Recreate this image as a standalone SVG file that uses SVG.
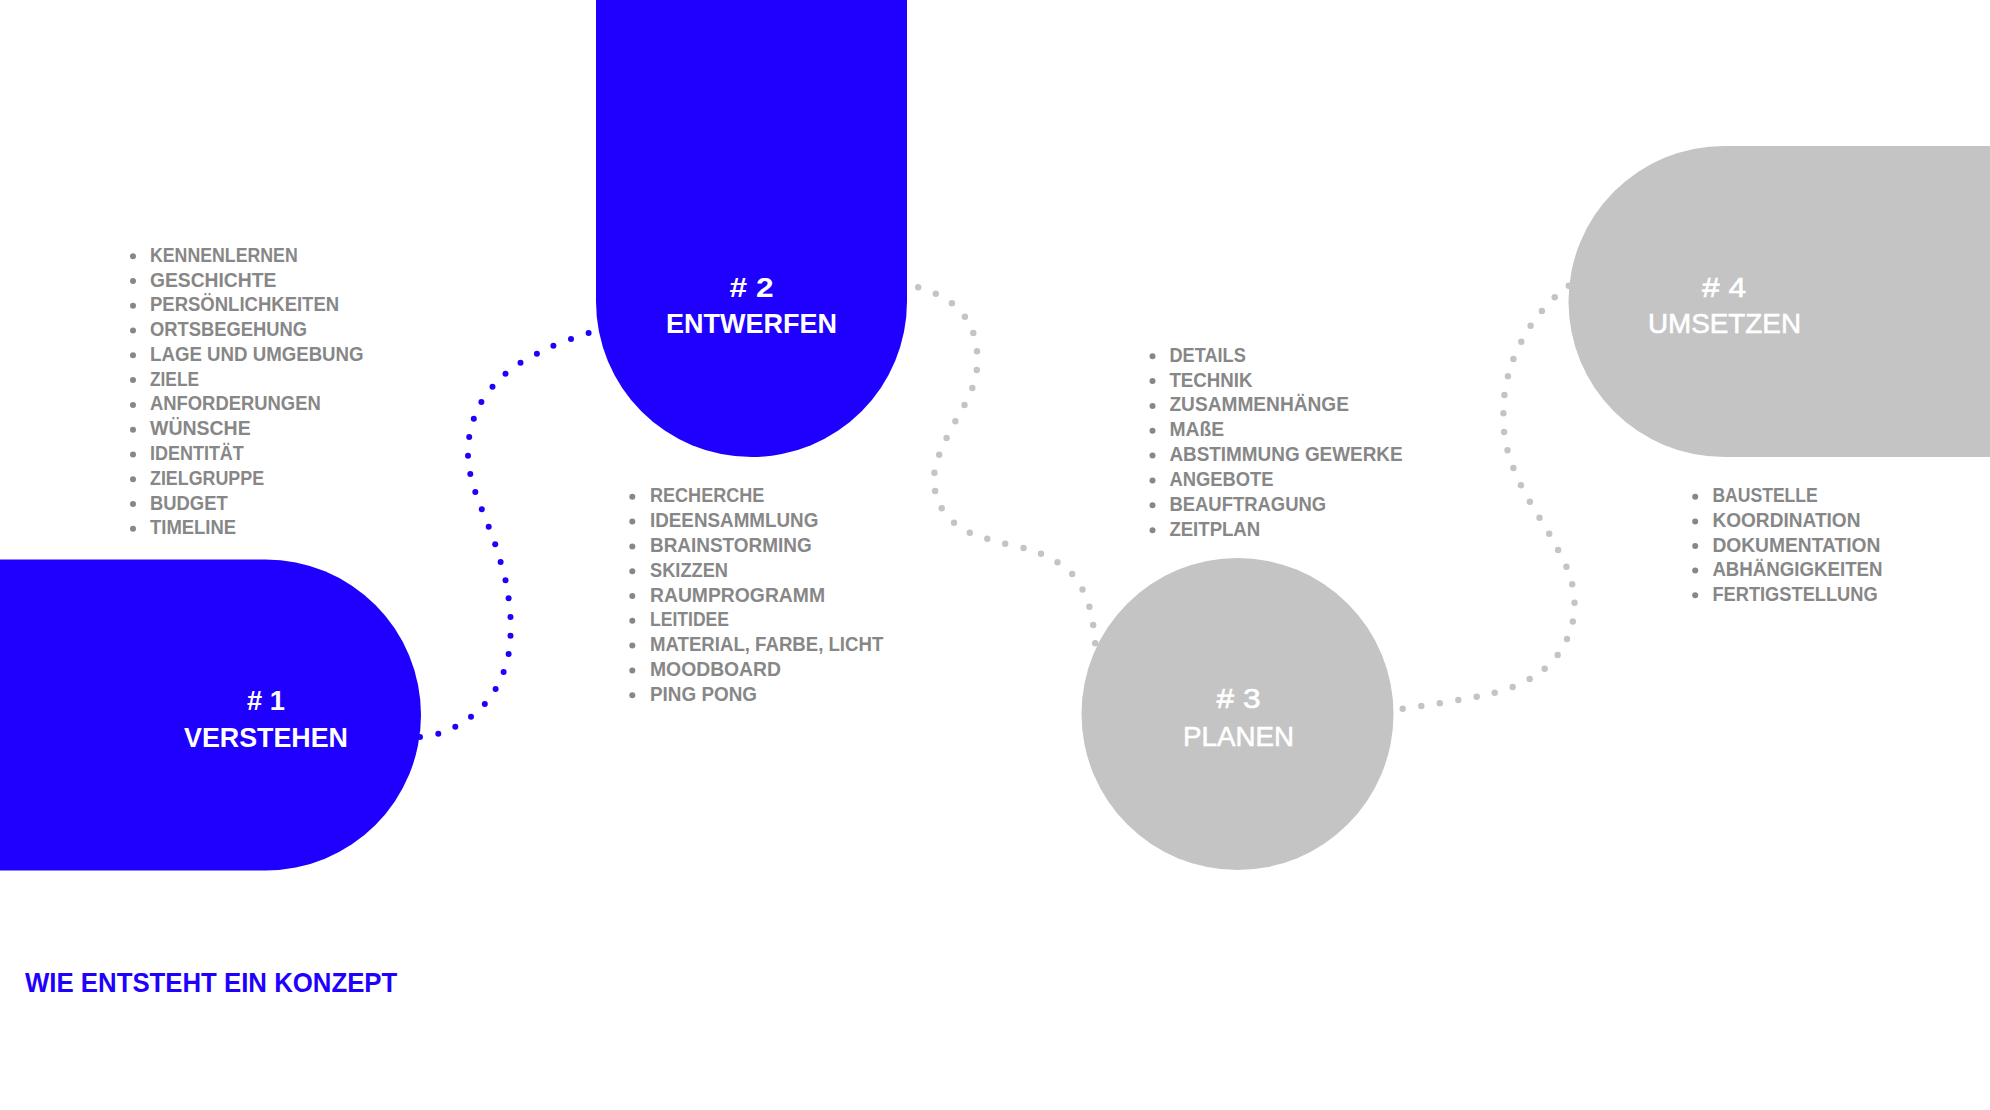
<svg xmlns="http://www.w3.org/2000/svg" width="1990" height="1110" viewBox="0 0 1990 1110">
  <style>
    .blue { fill: #1f00ff; }
    .grey { fill: #c4c4c4; }
    .label { font-family: "Liberation Sans", Arial, sans-serif; font-size: 28px; fill: #ffffff; text-anchor: middle; }
    .label.b { font-weight: bold; }
    .label.m { stroke: #ffffff; stroke-width: 0.6px; }
    .item { font-family: "Liberation Sans", Arial, sans-serif; font-size: 20px; font-weight: bold; fill: #878787; }
    .bullet { fill: #878787; }
    .title { font-family: "Liberation Sans", Arial, sans-serif; font-size: 28px; font-weight: bold; fill: #1f00ff; }
    .dots { fill: none; stroke: none; }
  </style>
  <defs>
    <marker id="dotBlue" markerUnits="userSpaceOnUse" markerWidth="8" markerHeight="8" refX="4" refY="4" overflow="visible">
      <circle cx="4" cy="4" r="3" fill="#1f00ff"/>
    </marker>
    <marker id="dotGrey" markerUnits="userSpaceOnUse" markerWidth="8" markerHeight="8" refX="4" refY="4" overflow="visible">
      <circle cx="4" cy="4" r="3.2" fill="#c4c4c4"/>
    </marker>
  </defs>
  <rect width="1990" height="1110" fill="#ffffff"/>

  <g id="connectors">
    <path id="c1-2" class="dots" marker-start="url(#dotBlue)" marker-mid="url(#dotBlue)" marker-end="url(#dotBlue)"
      d="M420,737 L438.3,733.7 L455.3,726.7 L471,716.7 L484.8,704 L495.6,689 L503.6,672 L508.6,654 L510.5,635.7 L510.5,617 L508.6,598.3 L505.5,580.3 L500.6,562 L495.2,544.2 L488.7,526.7 L481.8,509.3 L475.3,492 L470.3,474 L468,455.7 L469.2,437 L473.8,418.7 L481.4,402 L492.5,386.7 L505.5,373.7 L520.5,362.7 L536.9,353.7 L553.4,345.7 L571,339 L588.6,333"/>
    <path id="c2-3" class="dots" marker-start="url(#dotGrey)" marker-mid="url(#dotGrey)" marker-end="url(#dotGrey)"
      d="M918.2,287.3 L935.8,293.7 L951.9,303.3 L964.9,316.7 L973.3,333 L977,351.3 L976.8,370 L972.3,388 L964.5,405 L955.4,421.3 L946.6,438 L939.2,454.7 L934.4,472.7 L935.1,491 L941.7,508.3 L954,522.7 L969.8,532.7 L987.3,538.7 L1005.2,543.7 L1023.5,548 L1041,553.7 L1057.5,562.3 L1072.2,574 L1082.5,589.5 L1089.4,606.7 L1093.2,625 L1095.2,643.3"/>
    <path id="c3-4" class="dots" marker-start="url(#dotGrey)" marker-mid="url(#dotGrey)" marker-end="url(#dotGrey)"
      d="M1402.7,708.7 L1421.3,706 L1439.8,703.3 L1458.3,700 L1476.7,696.7 L1494.7,692.7 L1512.7,687 L1529.7,679 L1544.7,668.7 L1557.7,655 L1567,639 L1572.8,621.5 L1574.5,602.8 L1572.2,584.3 L1566.4,566.7 L1558.1,550 L1549.2,533.7 L1539.5,517.7 L1529.9,501.7 L1520.9,485.3 L1513.4,468 L1507.5,450.3 L1504.1,432 L1503.4,413.3 L1504.4,395 L1507.9,376.3 L1513.4,359 L1521.3,341.7 L1530.6,325.7 L1541.9,311 L1554.7,297.3 L1568.8,285.7"/>
  </g>

  <g id="node1">
    <path class="blue" d="M0,559.5 H265.5 A155.5,155.5 0 0 1 265.5,870.5 H0 Z"/>
    <text class="label b" x="266" y="710" textLength="38" lengthAdjust="spacingAndGlyphs"># 1</text>
    <text class="label b" x="266" y="747" textLength="164" lengthAdjust="spacingAndGlyphs">VERSTEHEN</text>
  </g>

  <g id="node2">
    <path class="blue" d="M596,0 H907 V301.5 A155.5,155.5 0 0 1 596,301.5 Z"/>
    <text class="label b" x="751.5" y="297" textLength="44" lengthAdjust="spacingAndGlyphs"># 2</text>
    <text class="label b" x="751.5" y="333" textLength="171" lengthAdjust="spacingAndGlyphs">ENTWERFEN</text>
  </g>

  <g id="node3">
    <circle class="grey" cx="1237.5" cy="714" r="156"/>
    <text class="label m" x="1238.5" y="708" textLength="44" lengthAdjust="spacingAndGlyphs"># 3</text>
    <text class="label m" x="1238.5" y="746" textLength="111" lengthAdjust="spacingAndGlyphs">PLANEN</text>
  </g>

  <g id="node4">
    <path class="grey" d="M1990,146 H1724 A155.5,155.5 0 0 0 1724,457 H1990 Z"/>
    <text class="label m" x="1724" y="297" textLength="44" lengthAdjust="spacingAndGlyphs"># 4</text>
    <text class="label m" x="1724.5" y="333" textLength="153" lengthAdjust="spacingAndGlyphs">UMSETZEN</text>
  </g>

  <g id="list1">
    <circle class="bullet" cx="133" cy="256.2" r="3"/><text class="item" x="150" y="261.7" textLength="147.7" lengthAdjust="spacingAndGlyphs">KENNENLERNEN</text>
    <circle class="bullet" cx="133" cy="281" r="3"/><text class="item" x="150" y="286.5" textLength="126.3" lengthAdjust="spacingAndGlyphs">GESCHICHTE</text>
    <circle class="bullet" cx="133" cy="305.8" r="3"/><text class="item" x="150" y="311.3" textLength="189.1" lengthAdjust="spacingAndGlyphs">PERSÖNLICHKEITEN</text>
    <circle class="bullet" cx="133" cy="330.5" r="3"/><text class="item" x="150" y="336" textLength="156.9" lengthAdjust="spacingAndGlyphs">ORTSBEGEHUNG</text>
    <circle class="bullet" cx="133" cy="355.3" r="3"/><text class="item" x="150" y="360.8" textLength="213.6" lengthAdjust="spacingAndGlyphs">LAGE UND UMGEBUNG</text>
    <circle class="bullet" cx="133" cy="380.1" r="3"/><text class="item" x="150" y="385.6" textLength="49" lengthAdjust="spacingAndGlyphs">ZIELE</text>
    <circle class="bullet" cx="133" cy="404.9" r="3"/><text class="item" x="150" y="410.4" textLength="170.7" lengthAdjust="spacingAndGlyphs">ANFORDERUNGEN</text>
    <circle class="bullet" cx="133" cy="429.7" r="3"/><text class="item" x="150" y="435.2" textLength="100.7" lengthAdjust="spacingAndGlyphs">WÜNSCHE</text>
    <circle class="bullet" cx="133" cy="454.4" r="3"/><text class="item" x="150" y="459.9" textLength="93.8" lengthAdjust="spacingAndGlyphs">IDENTITÄT</text>
    <circle class="bullet" cx="133" cy="479.2" r="3"/><text class="item" x="150" y="484.7" textLength="114.1" lengthAdjust="spacingAndGlyphs">ZIELGRUPPE</text>
    <circle class="bullet" cx="133" cy="504" r="3"/><text class="item" x="150" y="509.5" textLength="77.7" lengthAdjust="spacingAndGlyphs">BUDGET</text>
    <circle class="bullet" cx="133" cy="528.8" r="3"/><text class="item" x="150" y="534.3" textLength="86.1" lengthAdjust="spacingAndGlyphs">TIMELINE</text>
  </g>

  <g id="list2">
    <circle class="bullet" cx="632.3" cy="496.8" r="3"/><text class="item" x="650" y="502.3" textLength="114.3" lengthAdjust="spacingAndGlyphs">RECHERCHE</text>
    <circle class="bullet" cx="632.3" cy="521.6" r="3"/><text class="item" x="650" y="527.1" textLength="168.3" lengthAdjust="spacingAndGlyphs">IDEENSAMMLUNG</text>
    <circle class="bullet" cx="632.3" cy="546.4" r="3"/><text class="item" x="650" y="551.9" textLength="161.7" lengthAdjust="spacingAndGlyphs">BRAINSTORMING</text>
    <circle class="bullet" cx="632.3" cy="571.2" r="3"/><text class="item" x="650" y="576.7" textLength="78" lengthAdjust="spacingAndGlyphs">SKIZZEN</text>
    <circle class="bullet" cx="632.3" cy="596" r="3"/><text class="item" x="650" y="601.5" textLength="175" lengthAdjust="spacingAndGlyphs">RAUMPROGRAMM</text>
    <circle class="bullet" cx="632.3" cy="620.8" r="3"/><text class="item" x="650" y="626.3" textLength="79" lengthAdjust="spacingAndGlyphs">LEITIDEE</text>
    <circle class="bullet" cx="632.3" cy="645.6" r="3"/><text class="item" x="650" y="651.1" textLength="233.3" lengthAdjust="spacingAndGlyphs">MATERIAL, FARBE, LICHT</text>
    <circle class="bullet" cx="632.3" cy="670.4" r="3"/><text class="item" x="650" y="675.9" textLength="131" lengthAdjust="spacingAndGlyphs">MOODBOARD</text>
    <circle class="bullet" cx="632.3" cy="695.2" r="3"/><text class="item" x="650" y="700.7" textLength="107" lengthAdjust="spacingAndGlyphs">PING PONG</text>
  </g>

  <g id="list3">
    <circle class="bullet" cx="1152.5" cy="356.2" r="3"/><text class="item" x="1169.4" y="361.7" textLength="76.4" lengthAdjust="spacingAndGlyphs">DETAILS</text>
    <circle class="bullet" cx="1152.5" cy="381.1" r="3"/><text class="item" x="1169.4" y="386.6" textLength="83.1" lengthAdjust="spacingAndGlyphs">TECHNIK</text>
    <circle class="bullet" cx="1152.5" cy="405.9" r="3"/><text class="item" x="1169.4" y="411.4" textLength="179.6" lengthAdjust="spacingAndGlyphs">ZUSAMMENHÄNGE</text>
    <circle class="bullet" cx="1152.5" cy="430.8" r="3"/><text class="item" x="1169.4" y="436.3" textLength="54.7" lengthAdjust="spacingAndGlyphs">MAßE</text>
    <circle class="bullet" cx="1152.5" cy="455.6" r="3"/><text class="item" x="1169.4" y="461.1" textLength="233.2" lengthAdjust="spacingAndGlyphs">ABSTIMMUNG GEWERKE</text>
    <circle class="bullet" cx="1152.5" cy="480.5" r="3"/><text class="item" x="1169.4" y="486" textLength="104.2" lengthAdjust="spacingAndGlyphs">ANGEBOTE</text>
    <circle class="bullet" cx="1152.5" cy="505.3" r="3"/><text class="item" x="1169.4" y="510.8" textLength="156.8" lengthAdjust="spacingAndGlyphs">BEAUFTRAGUNG</text>
    <circle class="bullet" cx="1152.5" cy="530.2" r="3"/><text class="item" x="1169.4" y="535.7" textLength="90.8" lengthAdjust="spacingAndGlyphs">ZEITPLAN</text>
  </g>

  <g id="list4">
    <circle class="bullet" cx="1695.2" cy="496.8" r="3"/><text class="item" x="1712.4" y="502.3" textLength="105.4" lengthAdjust="spacingAndGlyphs">BAUSTELLE</text>
    <circle class="bullet" cx="1695.2" cy="521.4" r="3"/><text class="item" x="1712.4" y="526.9" textLength="148.1" lengthAdjust="spacingAndGlyphs">KOORDINATION</text>
    <circle class="bullet" cx="1695.2" cy="546" r="3"/><text class="item" x="1712.4" y="551.5" textLength="168" lengthAdjust="spacingAndGlyphs">DOKUMENTATION</text>
    <circle class="bullet" cx="1695.2" cy="570.6" r="3"/><text class="item" x="1712.4" y="576.1" textLength="170.1" lengthAdjust="spacingAndGlyphs">ABHÄNGIGKEITEN</text>
    <circle class="bullet" cx="1695.2" cy="595.2" r="3"/><text class="item" x="1712.4" y="600.7" textLength="165.3" lengthAdjust="spacingAndGlyphs">FERTIGSTELLUNG</text>
  </g>

  <g id="title">
    <text class="title" x="25" y="991.7" textLength="372.3" lengthAdjust="spacingAndGlyphs">WIE ENTSTEHT EIN KONZEPT</text>
  </g>
</svg>
